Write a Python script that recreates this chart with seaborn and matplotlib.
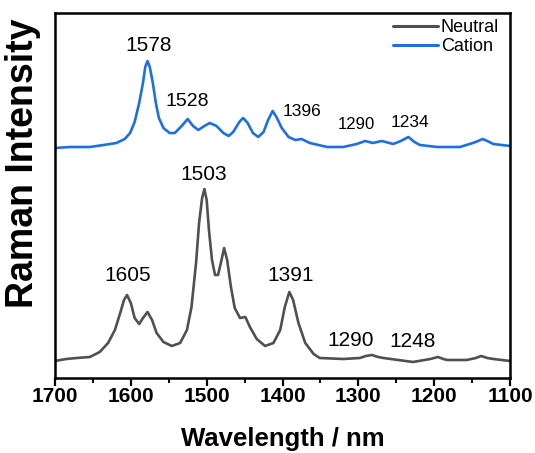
import matplotlib
matplotlib.use("Agg")
import matplotlib.pyplot as plt
import seaborn as sns
from matplotlib.ticker import MultipleLocator

# ---- data (arbitrary intensity units) ----
neutral_x = [1700, 1685, 1671, 1654, 1641, 1630, 1621, 1614, 1609, 1605, 1600,
             1595, 1589, 1584, 1578, 1572, 1566, 1557, 1546, 1535, 1526, 1520,
             1514, 1510, 1506, 1503, 1500, 1497, 1493, 1489, 1485, 1481, 1477,
             1473, 1468, 1463, 1456, 1449, 1443, 1434, 1423, 1412, 1403, 1397,
             1391, 1386, 1379, 1370, 1359, 1351, 1320, 1298, 1290, 1282, 1274,
             1267, 1228, 1205, 1195, 1188, 1183, 1157, 1145, 1138, 1130, 1122, 1100]
neutral_y = [17, 19, 20, 21, 26, 35, 48, 65, 78, 83, 75,
             60, 54, 60, 66, 58, 45, 36, 32, 35, 48, 71,
             115, 155, 180, 189, 178, 148, 118, 103, 103, 116, 130,
             118, 91, 70, 60, 61, 51, 39, 32, 35, 48, 71,
             86, 78, 55, 35, 24, 20, 19, 20, 22, 23, 21,
             20, 16, 19, 21, 19, 18, 18, 20, 22, 20, 19, 17]

cation_x = [1700, 1680, 1654, 1636, 1619, 1608, 1601, 1595, 1589, 1584, 1581,
            1578, 1575, 1571, 1567, 1563, 1557, 1549, 1542, 1533, 1525, 1518,
            1511, 1503, 1496, 1487, 1478, 1471, 1465, 1457, 1452, 1446, 1439,
            1432, 1425, 1419, 1413, 1408, 1401, 1392, 1383, 1375, 1364, 1341,
            1320, 1302, 1291, 1281, 1269, 1254, 1244, 1234, 1226, 1219, 1196,
            1166, 1149, 1142, 1136, 1130, 1122, 1100]
cation_y = [230, 231, 231, 233, 235, 239, 245, 256, 275, 295, 311,
            317, 311, 295, 275, 260, 250, 245, 245, 252, 259, 252,
            248, 252, 255, 252, 245, 242, 246, 256, 260, 255, 245,
            241, 246, 258, 267, 261, 250, 241, 238, 239, 235, 231,
            231, 234, 237, 235, 237, 234, 237, 241, 236, 233, 231,
            231, 235, 237, 239, 237, 234, 232]

series_names = ["Neutral", "Cation"]
series_colors = ["#505050", "#1f6fe0"]

cation_labels = ["1578", "1528", "1396", "1290", "1234"]
cation_label_pos = [(1577, 332), (1526, 276), (1374, 266), (1303, 253), (1232, 255)]
cation_label_size = [15, 14, 12.5, 12, 12.5]
neutral_labels = ["1503", "1605", "1391", "1290", "1248"]
neutral_label_pos = [(1504, 203), (1604, 102), (1389, 102), (1310, 37), (1229, 36)]

x_ticks = [1700, 1600, 1500, 1400, 1300, 1200, 1100]

# ---- style ----
sns.set_style("ticks")
plt.rcParams['font.family'] = ['Liberation Sans', 'DejaVu Sans']
plt.rcParams['text.color'] = 'black'
plt.rcParams['axes.labelcolor'] = 'black'
plt.rcParams['xtick.color'] = 'black'

fig = plt.figure(figsize=(5.35, 4.53), dpi=100)
ax = fig.add_axes([0.1028, 0.1656, 0.9533 - 0.1028, 0.9713 - 0.1656])

sns.lineplot(x=neutral_x, y=neutral_y, ax=ax, color=series_colors[0],
             linewidth=1.9, label=series_names[0], sort=False)
sns.lineplot(x=cation_x, y=cation_y, ax=ax, color=series_colors[1],
             linewidth=1.9, label=series_names[1], sort=False)
for line in ax.lines:
    line.set_solid_joinstyle("round")

ax.set_xlim(1700, 1100)
ax.set_ylim(0, 365)
ax.set_xticks(x_ticks)
ax.set_xticklabels([str(t) for t in x_ticks])
ax.xaxis.set_minor_locator(MultipleLocator(50))
ax.set_yticks([])

for s in ax.spines.values():
    s.set_visible(True)
    s.set_linewidth(1.8)
    s.set_color("black")

ax.tick_params(axis="x", which="major", direction="out", length=6, width=1.6,
               labelsize=15, pad=0.5, colors="black")
ax.tick_params(axis="x", which="minor", direction="out", length=3.5, width=1.4,
               colors="black")
for lbl in ax.get_xticklabels():
    lbl.set_fontweight("bold")

ax.set_xlabel("Wavelength / nm", fontsize=18.5, fontweight="bold", labelpad=15)
ax.set_ylabel("Raman Intensity", fontsize=27, fontweight="bold")
ax.yaxis.set_label_coords(-0.03, 0.588)

for txt, (x, y), fs in zip(cation_labels, cation_label_pos, cation_label_size):
    ax.text(x, y, txt, ha="center", va="center", fontsize=fs, color="black")
for txt, (x, y) in zip(neutral_labels, neutral_label_pos):
    ax.text(x, y, txt, ha="center", va="center", fontsize=15, color="black")

leg = ax.legend(loc="upper right", frameon=False, fontsize=13,
                handlelength=2.5, handletextpad=0.15, labelspacing=0.1,
                borderaxespad=0.2, bbox_to_anchor=(1.0, 1.012))
for h in leg.get_lines():
    h.set_linewidth(2.2)
for t in leg.get_texts():
    t.set_color("black")

fig.savefig("out.png", dpi=100)
